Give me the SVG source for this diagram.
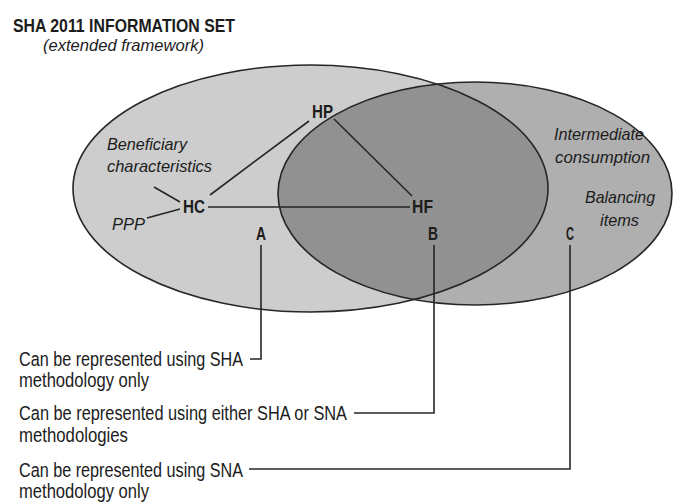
<svg xmlns="http://www.w3.org/2000/svg" width="675" height="503" viewBox="0 0 675 503">
<defs>
<style>
.t{font-family:"Liberation Sans",Arial,sans-serif;fill:#1c1c1c}
.b{font-weight:bold;font-size:19px}
.i{font-style:italic;font-size:17px}
.r{font-size:19.5px}
.ln{fill:none;stroke:#262626;stroke-width:1.6}
.el{stroke:#262626;stroke-width:1.6}
</style>
<clipPath id="clipR"><ellipse cx="475" cy="193.5" rx="197" ry="111.5"/></clipPath>
</defs>
<rect x="0" y="0" width="675" height="503" fill="#ffffff"/>
<g id="title">
<text class="t b" x="13" y="32" textLength="222" lengthAdjust="spacingAndGlyphs">SHA 2011 INFORMATION SET</text>
<text class="t i" x="43" y="51" textLength="161" lengthAdjust="spacingAndGlyphs">(extended framework)</text>
</g>
<g id="sets">
<ellipse id="sha-set" cx="310.5" cy="188.5" rx="237.5" ry="123.5" fill="#cdcdcd"/>
<ellipse id="sna-set" cx="475" cy="193.5" rx="197" ry="111.5" fill="#afafaf"/>
<ellipse id="overlap" cx="310.5" cy="188.5" rx="237.5" ry="123.5" fill="#919191" clip-path="url(#clipR)"/>
<ellipse class="el" cx="310.5" cy="188.5" rx="237.5" ry="123.5" fill="none"/>
<ellipse class="el" cx="475" cy="193.5" rx="197" ry="111.5" fill="none"/>
</g>
<g id="connectors">
<line class="ln" x1="154" y1="187" x2="180" y2="202"/>
<line class="ln" x1="147" y1="218" x2="180" y2="209"/>
<line class="ln" x1="210" y1="195" x2="309" y2="121"/>
<line class="ln" x1="208" y1="207" x2="410" y2="207"/>
<line class="ln" x1="334" y1="119" x2="412" y2="196"/>
<polyline class="ln" points="261,245 261,359 250,359"/>
<polyline class="ln" points="434,245 434,413 354,413"/>
<polyline class="ln" points="570,245 570,469 249,469"/>
</g>
<g id="beneficiary">
<text class="t i" x="107" y="150" textLength="80" lengthAdjust="spacingAndGlyphs">Beneficiary</text>
<text class="t i" x="107" y="172" textLength="105" lengthAdjust="spacingAndGlyphs">characteristics</text>
</g>
<g id="ppp"><text class="t i" x="112" y="230" textLength="33" lengthAdjust="spacingAndGlyphs">PPP</text></g>
<g id="HC"><text class="t b" x="183" y="213" textLength="22" lengthAdjust="spacingAndGlyphs">HC</text></g>
<g id="HP"><text class="t b" x="312" y="118" textLength="21" lengthAdjust="spacingAndGlyphs">HP</text></g>
<g id="HF"><text class="t b" x="412" y="213" textLength="21" lengthAdjust="spacingAndGlyphs">HF</text></g>
<g id="A"><text class="t b" x="256" y="240" textLength="10" lengthAdjust="spacingAndGlyphs">A</text></g>
<g id="B"><text class="t b" x="428" y="240" textLength="10" lengthAdjust="spacingAndGlyphs">B</text></g>
<g id="C"><text class="t b" x="566" y="240" textLength="8" lengthAdjust="spacingAndGlyphs">C</text></g>
<g id="intermediate">
<text class="t i" x="554" y="140" textLength="90" lengthAdjust="spacingAndGlyphs">Intermediate</text>
<text class="t i" x="555" y="163" textLength="95" lengthAdjust="spacingAndGlyphs">consumption</text>
</g>
<g id="balancing">
<text class="t i" x="585" y="203" textLength="70" lengthAdjust="spacingAndGlyphs">Balancing</text>
<text class="t i" x="600" y="226" textLength="39" lengthAdjust="spacingAndGlyphs">items</text>
</g>
<g id="note-A">
<text class="t r" x="19" y="366" textLength="224" lengthAdjust="spacingAndGlyphs">Can be represented using SHA</text>
<text class="t r" x="19" y="387" textLength="130" lengthAdjust="spacingAndGlyphs">methodology only</text>
</g>
<g id="note-B">
<text class="t r" x="19" y="420" textLength="328" lengthAdjust="spacingAndGlyphs">Can be represented using either SHA or SNA</text>
<text class="t r" x="19" y="442" textLength="109" lengthAdjust="spacingAndGlyphs">methodologies</text>
</g>
<g id="note-C">
<text class="t r" x="19" y="477" textLength="224" lengthAdjust="spacingAndGlyphs">Can be represented using SNA</text>
<text class="t r" x="19" y="498" textLength="130" lengthAdjust="spacingAndGlyphs">methodology only</text>
</g>
</svg>
